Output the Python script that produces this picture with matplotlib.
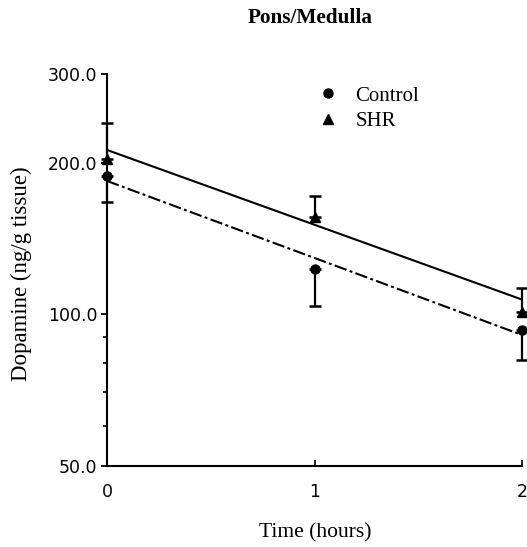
import matplotlib
matplotlib.use("Agg")
import matplotlib.pyplot as plt
from matplotlib.ticker import FixedLocator, FuncFormatter, NullFormatter

# values (ng/g tissue)
time = [0, 1, 2]
control_mean = [188, 123, 93]
control_low = [167, 104, 81]      # lower end of error bar
shr_mean = [203, 156, 101]
shr_high = [240, 172, 113]        # upper end of error bar

# regression lines (end points)
fit_time = [0, 2]
control_fit = [184, 91]
shr_fit = [212, 107]

y_ticks = [50, 100, 200, 300]
y_minor = [60, 70, 80, 90]
x_ticks = [0, 1, 2]

serif = "Liberation Serif"
sans = "DejaVu Sans"


def main():
    fig = plt.figure(figsize=(5.27, 5.47), dpi=100)
    ax = fig.add_axes([107 / 527, 1 - 466 / 547, 415 / 527, 392 / 547])

    ax.set_yscale("log")
    ax.set_ylim(50, 300)
    ax.set_xlim(0, 2)

    # fitted lines
    ax.plot(fit_time, shr_fit, color="black", lw=1.5, solid_capstyle="butt")
    l, = ax.plot(fit_time, control_fit, color="black", lw=1.5)
    l.set_dashes((6, 1.6, 1.4, 1.6))

    # error bars (one-sided)
    shr_err = [[0] * 3, [h - m for h, m in zip(shr_high, shr_mean)]]
    ctl_err = [[m - lo for m, lo in zip(control_mean, control_low)], [0] * 3]
    ax.errorbar(time, shr_mean, yerr=shr_err, fmt="none", ecolor="black",
                elinewidth=1.6, capsize=4.5, capthick=1.8, clip_on=False)
    ax.errorbar(time, control_mean, yerr=ctl_err, fmt="none", ecolor="black",
                elinewidth=1.6, capsize=4.5, capthick=1.8, clip_on=False)

    ax.plot(time, control_mean, "o", color="black", ms=6.5, ls="none",
            clip_on=False, zorder=5, label="Control")
    ax.plot(time, shr_mean, "^", color="black", ms=7, ls="none",
            clip_on=False, zorder=5, label="SHR")

    # axes style
    for s in ["top", "right"]:
        ax.spines[s].set_visible(False)
    ax.spines["left"].set_linewidth(1.5)
    ax.spines["bottom"].set_linewidth(1.5)

    ax.yaxis.set_major_locator(FixedLocator(y_ticks))
    ax.yaxis.set_minor_locator(FixedLocator(y_minor))
    ax.yaxis.set_major_formatter(FuncFormatter(lambda v, p: "%.1f" % v))
    ax.yaxis.set_minor_formatter(NullFormatter())
    ax.tick_params(axis="y", which="major", direction="out", length=4,
                   width=1.3, pad=3, labelsize=12.5)
    ax.tick_params(axis="y", which="minor", direction="out", length=3,
                   width=1.2)
    ax.set_xticks(x_ticks)
    ax.tick_params(axis="x", direction="in", length=4, width=1.2, pad=12,
                   labelsize=12.5)
    for t in ax.get_xticklabels() + ax.get_yticklabels():
        t.set_family(sans)

    ax.set_xlabel("Time (hours)", family=serif, fontsize=15.5)
    ax.xaxis.set_label_coords(0.501, -0.146)
    ax.set_ylabel("Dopamine (ng/g tissue)", family=serif, fontsize=16.5)
    ax.yaxis.set_label_coords(-0.18, 0.49)

    fig.text(310 / 527, 1 - 18 / 547, "Pons/Medulla", family=serif,
             fontsize=15.3, fontweight="bold", ha="center", va="center")

    ax.legend(loc="upper left", bbox_to_anchor=(318 / 527, 1 - 86 / 547),
              bbox_transform=fig.transFigure, frameon=False, borderpad=0,
              borderaxespad=0, handlelength=1.0, handletextpad=0.8,
              labelspacing=0.3, numpoints=1,
              prop={"family": serif, "size": 15})

    fig.savefig("out.png", dpi=100)


if __name__ == "__main__":
    main()
